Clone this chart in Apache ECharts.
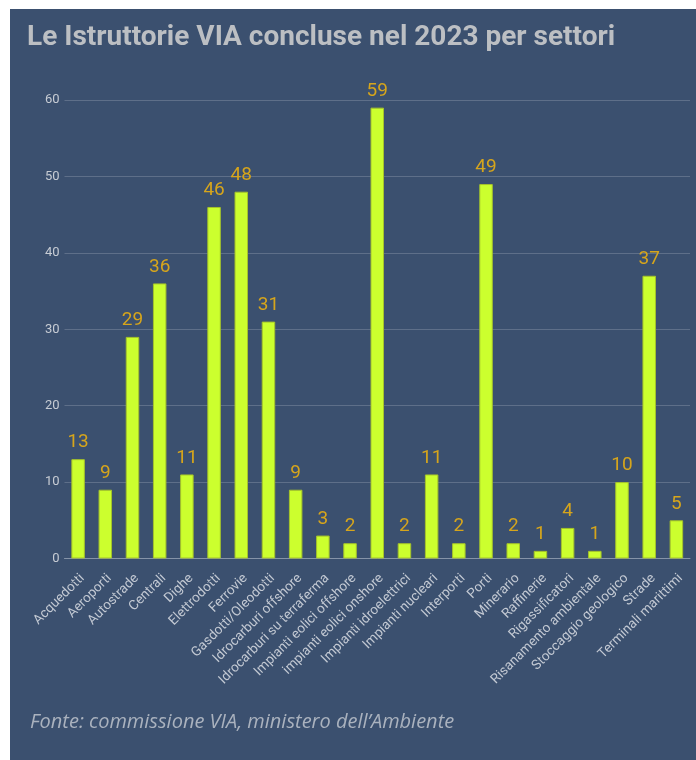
<!DOCTYPE html>
<html>
<head>
<meta charset="utf-8">
<script src="https://cdn.jsdelivr.net/npm/echarts@6/dist/echarts.min.js"></script>
<style>
  html, body { margin: 0; padding: 0; background: #fff; }
  #chart { width: 696px; height: 760px; }
</style>
</head>
<body>
<div id="chart"></div>
<script>
// settori e numero di istruttorie VIA concluse nel 2023
var settori = [
  'Acquedotti', 'Aeroporti', 'Autostrade', 'Centrali', 'Dighe', 'Elettrodotti',
  'Ferrovie', 'Gasdotti/Oleodotti', 'Idrocarburi offshore', 'Idrocarburi su terraferma',
  'Impianti eolici offshore', 'impianti eolici onshore', 'Impianti idroelettrici',
  'Impianti nucleari', 'Interporti', 'Porti', 'Minerario', 'Raffinerie',
  'Rigassificatori', 'Risanamento ambientale', 'Stoccaggio geologico', 'Strade',
  'Terminali marittimi'
];
var istruttorie = [13, 9, 29, 36, 11, 46, 48, 31, 9, 3, 2, 59, 2, 11, 2, 49, 2, 1, 4, 1, 10, 37, 5];

var titolo = 'Le Istruttorie VIA concluse nel 2023 per settori';
var fonte = 'Fonte: commissione VIA, ministero dell\u2019Ambiente';

var chart = echarts.init(document.getElementById('chart'));

var option = {
    backgroundColor: '#ffffff',
    animation: false,
    graphic: [
        {
            type: 'rect',
            z: -10,
            shape: { x: 10, y: 9, width: 686, height: 751 },
            style: { fill: '#3b506f' }
        },
        {
            type: 'text',
            left: 27,
            top: 24,
            style: {
                text: titolo,
                fill: '#bcbfc3',
                font: 'bold 28px Roboto'
            }
        },
        {
            type: 'text',
            left: 30,
            top: 712,
            style: {
                text: fonte,
                fill: '#aab2be',
                font: 'italic 20px "Open Sans"'
            }
        }
    ],
    grid: {
        left: 64.5,
        right: 6,
        top: 100,
        bottom: 201.5
    },
    xAxis: {
        type: 'category',
        data: settori,
        axisTick: { show: false },
        axisLine: { lineStyle: { color: '#8593a8', width: 1 } },
        axisLabel: {
            rotate: 45,
            interval: 0,
            margin: 22,
            padding: [0, -6, 0, 0],
            color: '#c3c9d3',
            fontSize: 13.5,
            fontFamily: 'Roboto'
        }
    },
    yAxis: {
        type: 'value',
        min: 0,
        max: 60,
        interval: 10,
        axisLine: { show: false },
        axisTick: { show: false },
        axisLabel: {
            margin: 5,
            color: '#c7ccd4',
            fontSize: 13,
            fontFamily: 'Roboto'
        },
        splitLine: { lineStyle: { color: 'rgba(255,255,255,0.18)', width: 1 } }
    },
    series: [
        {
            type: 'bar',
            data: istruttorie,
            barWidth: 13.5,
            itemStyle: {
                color: '#ccff2e',
                borderColor: '#a5c32a',
                borderWidth: 1
            },
            label: {
                show: true,
                position: 'top',
                distance: 7,
                color: '#d6a51c',
                fontSize: 19,
                fontFamily: 'Roboto'
            }
        }
    ]
};

chart.setOption(option);
</script>
</body>
</html>
